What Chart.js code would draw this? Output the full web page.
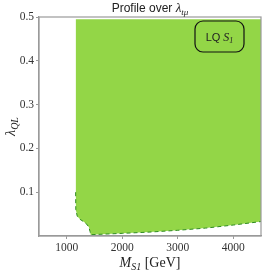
<!DOCTYPE html>
<html>
<head>
<meta charset="utf-8">
<script src="https://cdn.jsdelivr.net/npm/chart.js@4.4.1/dist/chart.umd.min.js"></script>
<style>
  html, body { margin: 0; padding: 0; background: #fff; }
  #wrap { width: 266px; height: 273px; }
</style>
</head>
<body>
<div id="wrap"><canvas id="chart"></canvas></div>
<script>
// Allowed region: lower edge of the profiled likelihood contour (M_S1 [GeV], lambda_QL)
const massGeV   = [1160, 1160, 1163, 1190, 1240, 1300, 1360, 1400, 1420, 1430, 2000, 2500, 3000, 3500, 4000, 4500];
const lambdaMin = [0.495, 0.10, 0.06, 0.045, 0.038, 0.033, 0.027, 0.02, 0.01, 0.003, 0.006, 0.009, 0.013, 0.018, 0.025, 0.033];
const regionTop = 0.495;

const xTicks = [1000, 2000, 3000, 4000];
const yTicks = [0.1, 0.2, 0.3, 0.4, 0.5];

const legendLabel = ['LQ ', 'S', '1'];

const GREEN = '#93d647';
const DARK_GREEN = '#2c8a1e';
const FRAME = '#9a9a9a';
const SERIF = '"Liberation Serif", "DejaVu Serif", serif';
const SANS = '"Liberation Sans", Arial, sans-serif';

// draw a row of text pieces with their own font and baseline shift
function drawRuns(ctx, runs, x, y, align) {
  let total = 0;
  runs.forEach((r) => {
    ctx.font = r.font;
    r.w = ctx.measureText(r.text).width;
    total += r.w;
  });
  let cx = align === 'center' ? x - total / 2 : x;
  runs.forEach((r) => {
    ctx.font = r.font;
    ctx.fillText(r.text, cx, y + (r.dy || 0));
    cx += r.w;
  });
}

const labelsPlugin = {
  id: 'labels',
  afterDraw(chart) {
    const { ctx, chartArea: a } = chart;
    ctx.save();
    ctx.fillStyle = '#222';
    ctx.textBaseline = 'alphabetic';
    ctx.textAlign = 'left';

    // frame around the plot
    ctx.strokeStyle = FRAME;
    ctx.lineWidth = 1.2;
    ctx.strokeRect(a.left, a.top, a.right - a.left, a.bottom - a.top);

    const midX = (a.left + a.right) / 2;
    const midY = (a.top + a.bottom) / 2;

    // title
    drawRuns(ctx, [
      { text: 'Profile over ', font: '12px ' + SANS },
      { text: '\u03bb', font: 'italic 13px ' + SERIF },
      { text: 't\u03bc', font: 'italic 9px ' + SERIF, dy: 3 },
    ], midX, 12, 'center');

    // x axis title
    drawRuns(ctx, [
      { text: 'M', font: 'italic 14px ' + SERIF },
      { text: 'S1', font: 'italic 10px ' + SERIF, dy: 3 },
      { text: ' [GeV]', font: '14px ' + SERIF },
    ], midX, 267, 'center');

    // y axis title
    ctx.save();
    ctx.translate(15, midY);
    ctx.rotate(-Math.PI / 2);
    drawRuns(ctx, [
      { text: '\u03bb', font: 'italic 14px ' + SERIF },
      { text: 'QL', font: 'italic 10px ' + SERIF, dy: 3 },
    ], 0, 0, 'center');
    ctx.restore();

    // legend box
    const bx = a.right - 66, by = a.top + 4, bw = 49, bh = 31, r = 8;
    ctx.beginPath();
    ctx.roundRect(bx, by, bw, bh, r);
    ctx.lineWidth = 1.2;
    ctx.strokeStyle = '#111';
    ctx.stroke();
    drawRuns(ctx, [
      { text: legendLabel[0], font: '11px ' + SANS },
      { text: legendLabel[1], font: 'italic 12px ' + SERIF },
      { text: legendLabel[2], font: 'italic 8px ' + SERIF, dy: 2 },
    ], bx + bw / 2, by + bh / 2 + 4, 'center');
    ctx.restore();
  },
};

const points = massGeV.map((m, i) => ({ x: m, y: lambdaMin[i] }));

new Chart(document.getElementById('chart'), {
  type: 'scatter',
  data: {
    datasets: [{
      data: points,
      showLine: true,
      pointRadius: 0,
      borderWidth: 1,
      borderDash: [4, 3],
      backgroundColor: GREEN,
      fill: { value: regionTop },
      segment: {
        borderColor: (c) => (c.p0DataIndex === 0 ? 'rgba(0,0,0,0)' : DARK_GREEN),
      },
    }],
  },
  options: {
    responsive: true,
    maintainAspectRatio: false,
    animation: false,
    devicePixelRatio: 1,
    layout: { padding: { top: 17, right: 5, left: 0, bottom: 0 } },
    plugins: {
      legend: { display: false },
      tooltip: { enabled: false },
    },
    scales: {
      x: {
        type: 'linear',
        min: 500,
        max: 4500,
        afterBuildTicks: (s) => { s.ticks = xTicks.map((v) => ({ value: v })); },
        afterFit: (s) => { s.height = 37; },
        ticks: {
          font: { family: SERIF, size: 11.5 },
          color: '#333',
          padding: 2,
          maxRotation: 0,
          callback: (v) => String(v),
        },
        grid: { drawOnChartArea: false, tickLength: 3, color: FRAME, lineWidth: 1 },
        border: { color: FRAME, width: 1.2 },
      },
      y: {
        min: 0,
        max: 0.5,
        afterBuildTicks: (s) => { s.ticks = yTicks.map((v) => ({ value: v })); },
        afterFit: (s) => { s.width = 39; },
        ticks: {
          font: { family: SERIF, size: 11.5 },
          color: '#333',
          padding: 2,
          callback: (v) => v.toFixed(1),
        },
        grid: { drawOnChartArea: false, tickLength: 3, color: FRAME, lineWidth: 1 },
        border: { color: FRAME, width: 1.2 },
      },
    },
  },
  plugins: [labelsPlugin],
});
</script>
</body>
</html>
